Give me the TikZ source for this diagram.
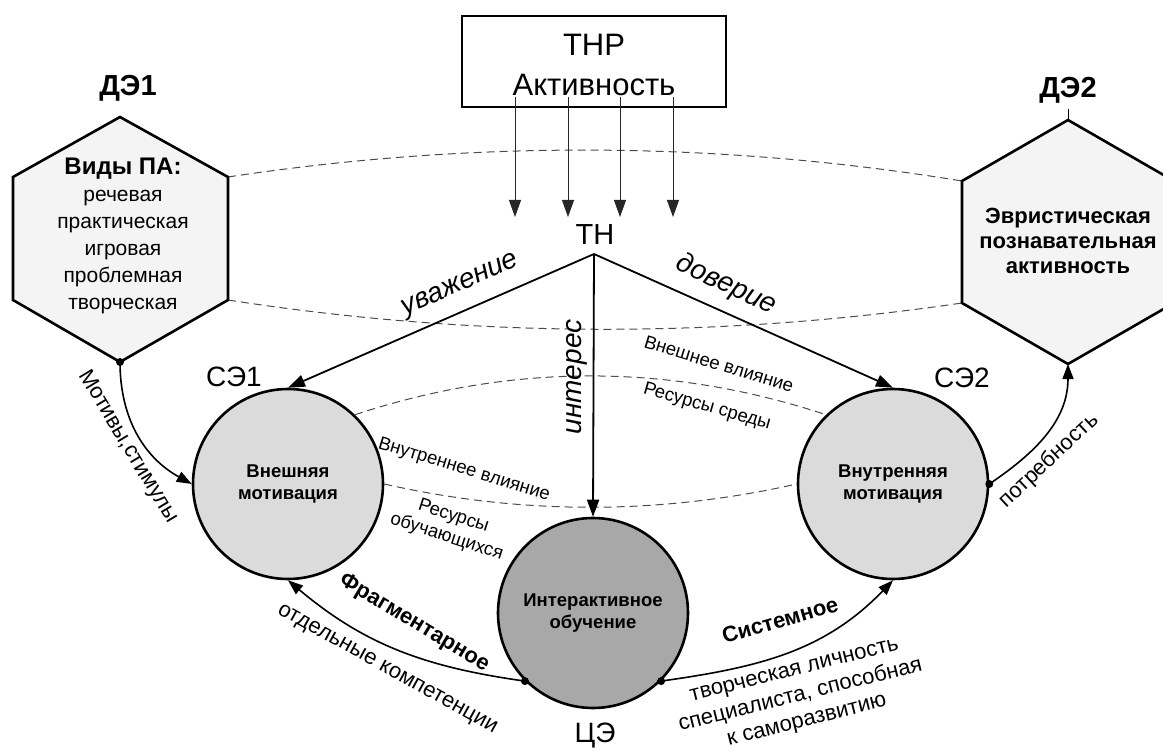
\documentclass[tikz,border=0pt]{standalone}
\usepackage{fontspec}
\setmainfont{Liberation Sans}
\usetikzlibrary{arrows.meta,calc}
\newcommand\fsz[2]{\fontsize{#1pt}{#2pt}\selectfont}
\definecolor{hexfill}{gray}{0.955}
\definecolor{cfill}{gray}{0.86}
\definecolor{czfill}{gray}{0.66}
\definecolor{dashc}{gray}{0.3}
\begin{document}
\begin{tikzpicture}[x=1pt,y=1pt,
  hexa/.style={line width=2.6pt, fill=hexfill, line join=miter},
  circ/.style={circle, draw, line width=2.6pt, minimum size=190pt, inner sep=0pt, align=center, font=\bfseries\fsz{18.5}{22}},
  mainarrow/.style={line width=1.8pt, -{Triangle[length=17pt,width=12pt]}},
  thinarrow/.style={line width=0.9pt, draw=black!85, -{Triangle[length=17pt,width=12pt]}},
  curvearrow/.style={line width=1.6pt, -{Triangle[length=15pt,width=11pt]}},
  dsh/.style={dash pattern=on 8pt off 5pt, line width=1pt, draw=dashc},
  lbl/.style={inner sep=0pt, font=\fsz{22}{26}},
  small/.style={inner sep=0pt, font=\fsz{18.5}{22}, align=center},
  bold/.style={inner sep=0pt, font=\bfseries\fsz{22}{26}},
  ital/.style={inner sep=0pt, font=\itshape\fsz{28}{32}},
  big/.style={inner sep=0pt, font=\fsz{28}{32}},
  dot/.style={fill=black}
]
\useasboundingbox (0,0) rectangle (1163,-749);
\clip (0,0) rectangle (1163,-749);

% hexagon vertices
\coordinate (L1) at (120,-117); \coordinate (L2) at (228,-177);
\coordinate (L3) at (228,-300); \coordinate (L4) at (120,-362);
\coordinate (L5) at (13,-300);  \coordinate (L6) at (13,-177);
\coordinate (R1) at (1068,-120); \coordinate (R2) at (1174,-181);
\coordinate (R3) at (1174,-303); \coordinate (R4) at (1068,-364);
\coordinate (R5) at (962,-303);  \coordinate (R6) at (962,-181);

% circles
\node[circ, fill=cfill] (c1) at (288,-484) {Внешняя\\мотивация};
\node[circ, fill=cfill] (c2) at (893,-484) {Внутренняя\\мотивация};
\node[circ, fill=czfill] (c3) at (593,-613) {Интерактивное\\обучение};

% dashed arcs
\draw[dsh] (L2) .. controls (473,-140) and (717,-141) .. (R6);
\draw[dsh] (L3) .. controls (473,-338) and (717,-339) .. (R5);
\draw[dsh] (c1.46) .. controls (512,-363) and (669,-363) .. (c2.134);
\draw[dsh] (c1.east) .. controls (521,-515) and (659,-515) .. (c2.west);

% hexagons
\draw[hexa] (L1)--(L2)--(L3)--(L4)--(L5)--(L6)--cycle;
\draw[hexa] (R1)--(R2)--(R3)--(R4)--(R5)--(R6)--cycle;
\node[align=center, inner sep=0pt, font=\fsz{21}{27}] (dt1) at (123,-236)
  {{\bfseries\fsz{24}{27}Виды ПА:}\\речевая\\практическая\\игровая\\проблемная\\творческая};
\node[align=center, inner sep=0pt, font=\bfseries\fsz{22}{25}] (dt2) at (1068,-241)
  {Эвристическая\\познавательная\\активность};

% titles
\node[inner sep=0pt, font=\bfseries\fsz{29}{32}] (de1) at (128,-88) {ДЭ1};
\node[inner sep=0pt, font=\bfseries\fsz{29}{32}] (de2) at (1068,-90) {ДЭ2};
\coordinate (de2b) at ($(de2.south)+(0,-6)$);
\draw[line width=0.8pt] (de2b) -- (R1);
\node[big] (se1) at (234,-377) {СЭ1};
\node[big] (se2) at (962,-378) {СЭ2};
\node[big] (ce) at (595,-736) {ЦЭ};

% top box
\node[draw, line width=2.2pt, minimum width=264pt, minimum height=91pt] (thr) at (594,-61.5) {};
\node[align=center, inner sep=0pt, font=\fsz{31}{40}] (thrt) at (594,-64.5) {ТНР\\Активность};
\foreach \i/\x in {1/515,2/568,3/620,4/673}{
  \coordinate (s\i) at (\x,-97);
  \coordinate (e\i) at (\x,-217);
  \draw[thinarrow] (s\i) -- (e\i);
}

% TN
\node[inner sep=0pt, font=\fsz{29}{32}] (tn) at (595,-235) {ТН};
\coordinate (apex) at (594,-254);
\draw[mainarrow] (apex) -- (c1.north);
\draw[mainarrow] (apex) -- (c2.north);
\draw[mainarrow] (apex) -- (c3.north);
\node[ital, rotate=24] (uv) at (461,-286) {уважение};
\node[ital, rotate=-25] (dv) at (726,-285) {доверие};
\node[ital, rotate=90] (in) at (577,-377) {интерес};

% middle labels
\node[small, rotate=-17] (vv) at (719,-364) {Внешнее влияние};
\node[small, rotate=-16] (rs) at (707,-407) {Ресурсы среды};
\node[small, rotate=-17] (vnv) at (464,-470) {Внутреннее влияние};
\node[small, rotate=-18] (ro) at (450,-527) {Ресурсы\\обучающихся};

% curved arrows
\draw[curvearrow] (c3.225) to[out=172, in=-40] (c1.south);
\draw[curvearrow] (c3.-45) to[out=8, in=-134] (c2.south);
\draw[curvearrow] (L4) to[out=-90, in=151] (c1.west);
\draw[curvearrow] (c2.east) to[out=34, in=-90] (R4);
\fill[dot] (L4) circle (4pt);
\fill[dot] (c3.225) circle (4pt);
\fill[dot] (c3.-45) circle (4pt);
\fill[dot] (c2.east) circle (4pt);

\node[lbl, rotate=-59] (ms) at (128,-447) {Мотивы,стимулы};
\node[lbl, rotate=43] (pt) at (1049,-461) {потребность};
\node[bold, rotate=-31] (fr) at (414,-623) {Фрагментарное};
\node[lbl, rotate=-29] (ok) at (387,-670) {отдельные компетенции};
\node[bold, rotate=16] (sy) at (780,-620) {Системное};
\node[lbl, align=center, rotate=14] (tl) at (801,-697)
  {творческая личность\\специалиста, способная\\к саморазвитию};
\end{tikzpicture}
\end{document}
